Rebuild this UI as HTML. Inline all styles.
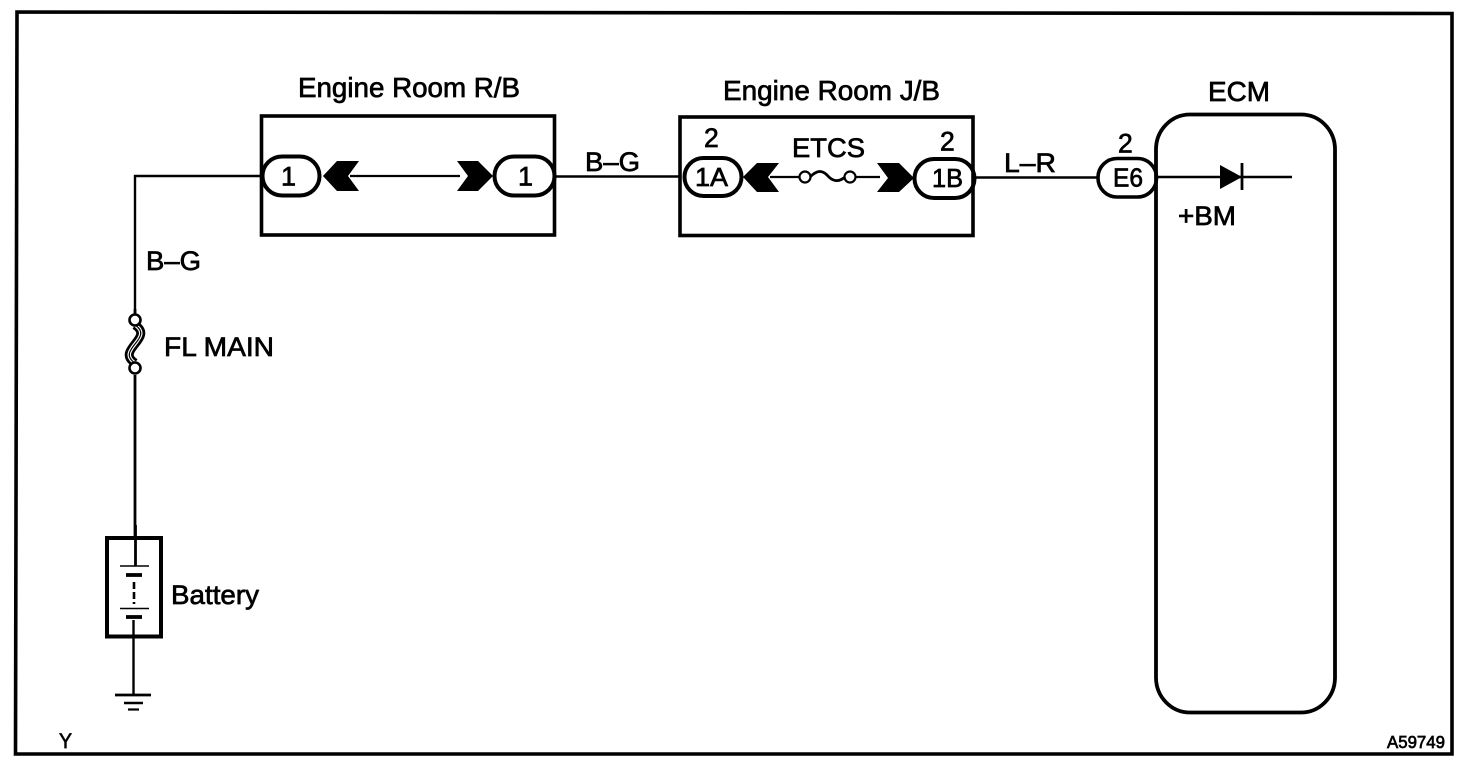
<!DOCTYPE html>
<html><head><meta charset="utf-8"><style>
html,body{margin:0;padding:0;background:#fff;width:1472px;height:772px;overflow:hidden}
svg{display:block}
text{font-family:"Liberation Sans",sans-serif;fill:#000;stroke:#000;stroke-width:.7}
</style></head><body>
<svg width="1472" height="772" viewBox="0 0 1472 772" xmlns="http://www.w3.org/2000/svg">
<rect width="1472" height="772" fill="#fff"/>
<g fill="none" stroke="#000" stroke-linecap="butt">
<path d="M17,12 L1452,13.5 L1452,754 L15.5,754 Z" stroke-width="3.6"/>
<rect x="261.500" y="116" width="293" height="119" stroke-width="3.6"/>
<rect x="680" y="117" width="293" height="118.500" stroke-width="3.6"/>
<path d="M1156,150 A34,35 0 0 1 1190,114.500 L1301,114.500 A34,35 0 0 1 1335,150 L1335,678 A34,35 0 0 1 1301,712.500 L1190,712.500 A34,35 0 0 1 1156,678 Z" stroke-width="3.8"/>
<path d="M135,315 L135,176 L262,176" stroke-width="2.400"/>
<path d="M555,176.500 H680" stroke-width="2.400"/>
<path d="M973,177.500 H1097" stroke-width="2.600"/>
<path d="M1157,177 H1292" stroke-width="2.600"/>
<path d="M350,176 H460" stroke-width="2.200"/>
<path d="M770,177 H800 M855,177 H880" stroke-width="2.200"/>
<rect x="262.500" y="156.500" width="57" height="39" rx="19.500" stroke-width="4"/>
<rect x="494.500" y="156.500" width="60" height="39" rx="19.500" stroke-width="4"/>
<rect x="684.500" y="158" width="57" height="38" rx="19" stroke-width="4"/>
<rect x="914.500" y="159" width="60" height="39" rx="19.500" stroke-width="4"/>
<rect x="1098" y="158.500" width="58.500" height="38.500" rx="19" stroke-width="3.600"/>
<circle cx="805" cy="177" r="5.500" fill="#fff" stroke-width="2.200"/>
<circle cx="850" cy="177" r="5.500" fill="#fff" stroke-width="2.200"/>
<path d="M810,177 C817,170 822,170 827,175 C832,181 838,183 845,177" stroke-width="2.800"/>
<path d="M135,375 V538" stroke-width="2.800"/>
<path d="M135,309 V316" stroke-width="2.800"/>
<path d="M135,325 C155,338 115,350 135,363" stroke-width="9"/>
<path d="M135,325 C155,338 115,350 135,363" stroke="#fff" stroke-width="3.500"/>
<path d="M135,325 C155,338 115,350 135,363" stroke-width="1.200"/>
<circle cx="135" cy="320" r="5.500" fill="#fff" stroke-width="2.600"/>
<circle cx="135" cy="368" r="5.500" fill="#fff" stroke-width="2.600"/>
<rect x="107" y="538" width="54" height="98.500" stroke-width="4"/>
<path d="M135.500,525 V566" stroke-width="2.800"/>
<path d="M120,566 H149" stroke-width="1.600"/>
<path d="M126,575 H142" stroke-width="3.800"/>
<path d="M134,582 V604" stroke-width="2.600" stroke-dasharray="7 3"/>
<path d="M120,608.500 H149" stroke-width="1.600"/>
<path d="M126,617 H142" stroke-width="3.800"/>
<path d="M133.500,620 V695" stroke-width="2.400"/>
<path d="M115,695 H151" stroke-width="2.800"/>
<path d="M124,703 H143" stroke-width="2.400"/>
<path d="M128,709.500 H139" stroke-width="2.200"/>
<path d="M1242,163 V190" stroke-width="2.800"/>
</g>
<g fill="#000">
<polygon points="323,176 337,161 359,161 348,176 359,191 337,191"/>
<polygon points="457,161 478,161 493,176 478,191 457,191 468,176"/>
<polygon points="743,177 757,163 779,163 768,177 779,192 757,192"/>
<polygon points="877,163 899,163 914,178 899,192 877,192 888,178"/>
<polygon points="1220,165 1242,177 1220,189"/>
</g>
<text x="298" y="97" font-size="27.500" textLength="222" lengthAdjust="spacingAndGlyphs">Engine Room R/B</text>
<text x="723" y="100" font-size="27.500" textLength="217" lengthAdjust="spacingAndGlyphs">Engine Room J/B</text>
<text x="1208" y="101" font-size="27.500" textLength="62" lengthAdjust="spacingAndGlyphs">ECM</text>
<text x="792" y="157" font-size="26.500" textLength="73" lengthAdjust="spacingAndGlyphs">ETCS</text>
<text x="704" y="147" font-size="26.500">2</text>
<text x="940" y="150.500" font-size="26.500">2</text>
<text x="1118" y="152.500" font-size="26.500">2</text>
<text x="281" y="185.500" font-size="27">1</text>
<text x="518" y="185.500" font-size="27">1</text>
<text x="695" y="186" font-size="26" textLength="33" lengthAdjust="spacingAndGlyphs">1A</text>
<text x="932" y="187" font-size="26" textLength="31" lengthAdjust="spacingAndGlyphs">1B</text>
<text x="1113" y="186.500" font-size="26" textLength="30" lengthAdjust="spacingAndGlyphs">E6</text>
<text x="585" y="171" font-size="26.500" textLength="55" lengthAdjust="spacingAndGlyphs">B–G</text>
<text x="1004" y="172" font-size="26.500" textLength="52" lengthAdjust="spacingAndGlyphs">L–R</text>
<text x="146" y="270" font-size="26.500" textLength="55" lengthAdjust="spacingAndGlyphs">B–G</text>
<text x="164" y="356" font-size="26.500" textLength="110" lengthAdjust="spacingAndGlyphs">FL MAIN</text>
<text x="171" y="604" font-size="27" textLength="88" lengthAdjust="spacingAndGlyphs">Battery</text>
<text x="1178" y="225" font-size="26.500" textLength="58" lengthAdjust="spacingAndGlyphs">+BM</text>
<text x="59" y="748" font-size="21" textLength="13" lengthAdjust="spacingAndGlyphs">Y</text>
<text x="1387" y="748" font-size="17.500" textLength="58" lengthAdjust="spacingAndGlyphs">A59749</text>
</svg>
</body></html>
